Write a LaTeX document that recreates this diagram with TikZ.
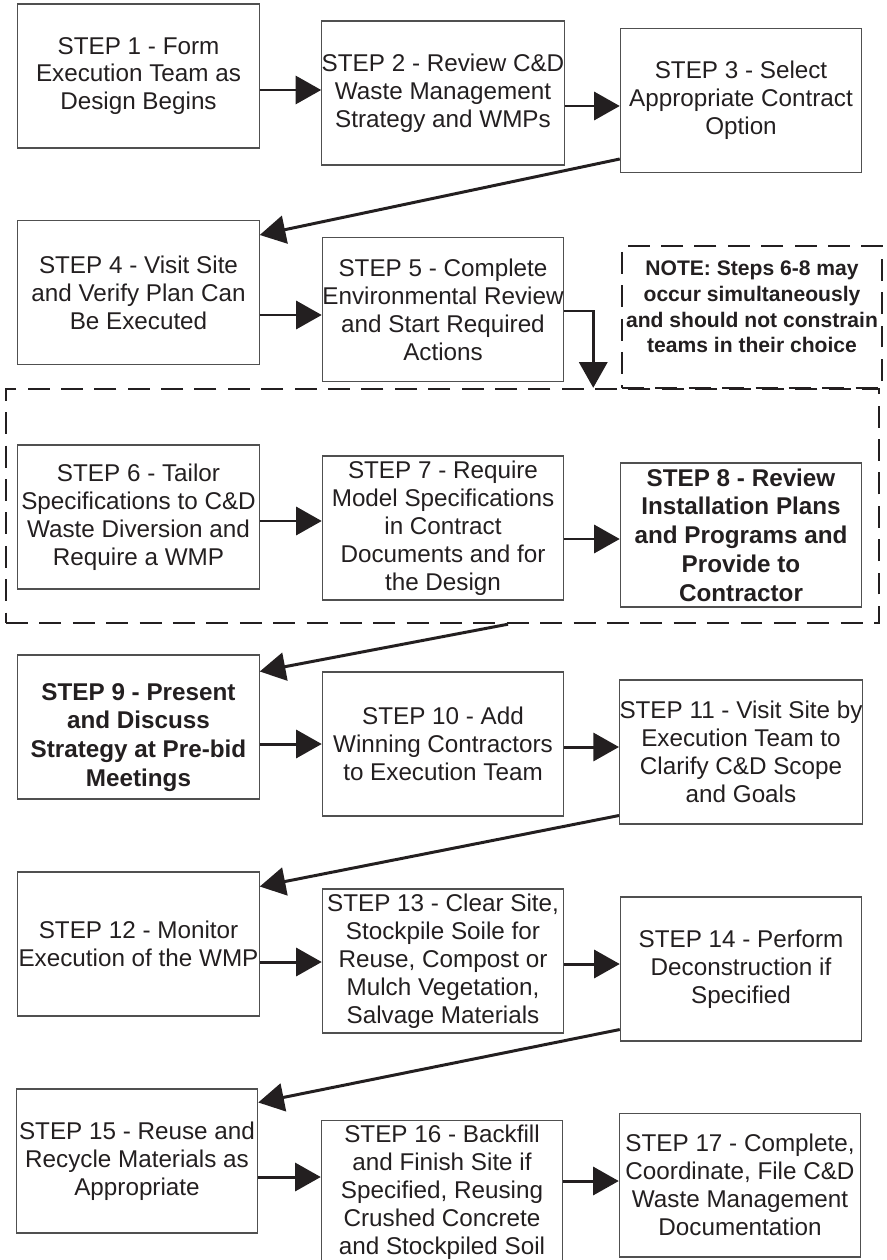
\documentclass[tikz,border=0pt]{standalone}
\usepackage{fontspec}
\setmainfont{Liberation Sans}
\usetikzlibrary{arrows.meta, positioning, calc}
\definecolor{ink}{HTML}{231F20}
\definecolor{edge}{HTML}{505050}

\begin{document}
\begin{tikzpicture}[
    x=0.02cm, y=-0.02cm,
    font=\fontsize{13.8}{15.9}\selectfont,
    text=ink,
    stepbox/.style={
        rectangle, draw=edge, line width=0.6pt,
        minimum width=4.83cm, minimum height=2.88cm,
        align=center, inner sep=0pt
    },
    keystep/.style={
        stepbox, font=\fontsize{13.8}{16.4}\selectfont\bfseries
    },
    notebox/.style={
        rectangle, draw=ink, line width=1.4pt, dash pattern=on 12.5pt off 6.5pt,
        minimum width=5.2cm, minimum height=2.84cm, align=center, inner sep=0pt,
        font=\fontsize{12}{14.6}\selectfont\bfseries
    },
    groupbox/.style={
        rectangle, draw=ink, line width=1.4pt, dash pattern=on 12.5pt off 6.5pt,
        minimum width=17.46cm, minimum height=4.68cm, inner sep=0pt
    },
    flow/.style={draw=ink, line width=1.7pt, -{Triangle[length=14.6pt, width=16pt]}}
]
\useasboundingbox (0,0) rectangle (886,1260);

% -------------------------
% 1. Planning: STEPS 1-5
% -------------------------
\node[stepbox] (s1) at (138.5,76) {STEP 1 - Form\\Execution Team as\\Design Begins};
\node[stepbox] (s2) at (443,93) {STEP 2 - Review C\&D\\Waste Management\\Strategy and WMPs};
\node[stepbox] (s3) at (741,100.5) {STEP 3 - Select\\Appropriate Contract\\Option};
\node[stepbox] (s4) at (138.5,292.5) {STEP 4 - Visit Site\\and Verify Plan Can\\Be Executed};
\node[stepbox] (s5) at (443,309.5) {STEP 5 - Complete\\Environmental Review\\and Start Required\\Actions};
\node[notebox] (note) at (752,317) {\raisebox{0pt}[\height][\dimexpr\depth+9pt\relax]{\begin{tabular}{@{}c@{}}NOTE: Steps 6-8 may\\occur simultaneously\\and should not constrain\\teams in their choice\end{tabular}}};

% -------------------------
% 2. Parallel group: STEPS 6-8
% -------------------------
\node[groupbox] (group) at (442.5,506) {};
\node[stepbox] (s6) at (138.5,517) {STEP 6 - Tailor\\Specifications to C\&D\\Waste Diversion and\\Require a WMP};
\node[stepbox] (s7) at (443,528) {STEP 7 - Require\\Model Specifications\\in Contract\\Documents and for\\the Design};
\node[keystep] (s8) at (741,535) {STEP 8 - Review\\Installation Plans\\and Programs and\\Provide to\\Contractor};

% -------------------------
% 3. Bidding and site work: STEPS 9-14
% -------------------------
\node[keystep] (s9) at (138.5,727) {\raisebox{0pt}[\dimexpr\height+12pt\relax][\depth]{\begin{tabular}{@{}c@{}}STEP 9 - Present\\and Discuss\\Strategy at Pre-bid\\Meetings\end{tabular}}};
\node[stepbox] (s10) at (443,744) {STEP 10 - Add\\Winning Contractors\\to Execution Team};
\node[stepbox] (s11) at (741,752) {STEP 11 - Visit Site by\\Execution Team to\\Clarify C\&D Scope\\and Goals};
\node[stepbox] (s12) at (138.5,944) {STEP 12 - Monitor\\Execution of the WMP};
\node[stepbox] (s13) at (443,961) {STEP 13 - Clear Site,\\Stockpile Soile for\\Reuse, Compost or\\Mulch Vegetation,\\Salvage Materials};
\node[stepbox] (s14) at (741,969) {STEP 14 - Perform\\Deconstruction if\\Specified};

% -------------------------
% 4. Close-out: STEPS 15-17
% -------------------------
\node[stepbox] (s15) at (137,1161) {STEP 15 - Reuse and\\Recycle Materials as\\Appropriate};
\node[stepbox] (s16) at (442,1192) {STEP 16 - Backfill\\and Finish Site if\\Specified, Reusing\\Crushed Concrete\\and Stockpiled Soil};
\node[stepbox] (s17) at (740,1185) {STEP 17 - Complete,\\Coordinate, File C\&D\\Waste Management\\Documentation};

% -------------------------
% CONNECTORS
% -------------------------
% along the rows
\path ($(s1.east)+(0,14)$) coordinate (a1);
\path ($(s2.east)+(0,13)$) coordinate (a2);
\path ($(s4.east)+(0,22.5)$) coordinate (a4);
\path ($(s6.east)+(0,4)$) coordinate (a6);
\path ($(s7.east)+(0,11)$) coordinate (a7);
\path ($(s9.east)+(0,17)$) coordinate (a9);
\path ($(s10.east)+(0,3)$) coordinate (a10);
\path ($(s12.east)+(0,18)$) coordinate (a12);
\path ($(s13.east)+(0,3)$) coordinate (a13);
\path ($(s15.east)+(0,16)$) coordinate (a15);
\path ($(s16.east)+(0,-11)$) coordinate (a16);
\draw[flow] (a1) -- (a1 -| s2.west);
\draw[flow] (a2) -- (a2 -| s3.west);
\draw[flow] (a4) -- (a4 -| s5.west);
\draw[flow] (a6) -- (a6 -| s7.west);
\draw[flow] (a7) -- (a7 -| s8.west);
\draw[flow] (a9) -- (a9 -| s10.west);
\draw[flow] (a10) -- (a10 -| s11.west);
\draw[flow] (a12) -- (a12 -| s13.west);
\draw[flow] (a13) -- (a13 -| s14.west);
\draw[flow] (a15) -- (a15 -| s16.west);
\draw[flow] (a16) -- (a16 -| s17.west);

% back to the next row
\draw[flow] ($(s3.south west)+(0,-14)$) -- ($(s4.north east)+(0,15)$);
\draw[flow] ($(group.south)+(65.5,0)$) -- ($(s9.north east)+(0,17)$);
\draw[flow] ($(s11.south west)+(0,-9)$) -- ($(s12.north east)+(0,15)$);
\draw[flow] ($(s14.south west)+(0,-12)$) -- ($(s15.north east)+(0,14)$);

% Step 5 -> parallel group
\path ($(s5.east)+(29,1.5)$) coordinate (bend);
\draw[flow] ($(s5.east)+(0,1.5)$) -- (bend) -- (bend |- group.north);

\end{tikzpicture}
\end{document}
